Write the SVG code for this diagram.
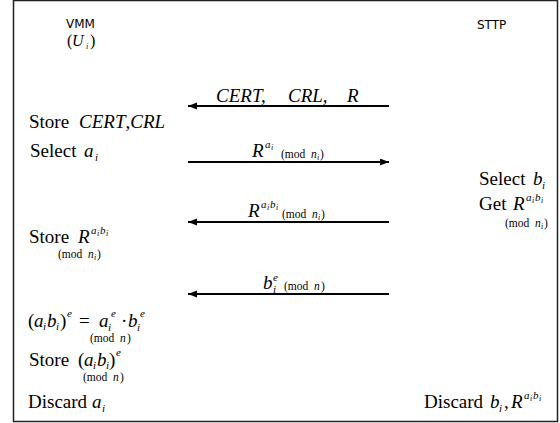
<svg xmlns="http://www.w3.org/2000/svg" width="560" height="423" viewBox="0 0 560 423">
<style>
.sans{font-family:"DejaVu Sans",Verdana,sans-serif;font-size:12px;fill:#000}
.t{font-family:"Liberation Serif","Times New Roman",serif;font-size:19px;fill:#000}
.i{font-style:italic}
.s{font-size:11px}
.m{font-size:11.5px}
.ss{font-size:8px}
.arrow{stroke:#000;stroke-width:2;fill:none;marker-end:url(#ah)}
</style>
<defs>
<marker id="ah" markerUnits="userSpaceOnUse" markerWidth="10" markerHeight="8" refX="9" refY="3.5" orient="auto">
<path d="M0,0 L9,3.5 L0,7 z" fill="#000"/>
</marker>
</defs>
<rect x="13.5" y="0.5" width="544" height="421" fill="#fff" stroke="#222" stroke-width="1.5"/>

<g id="vmm">
<text class="sans" x="66" y="28">VMM</text>
<text class="t" x="67" y="46" style="font-size:16px">(</text>
<text class="t i" x="72" y="46" style="font-size:16px">U</text>
<text class="t i ss" x="86" y="49">i</text>
<text class="t" x="90" y="46" style="font-size:16px">)</text>
</g>

<g id="sttp">
<text class="sans" x="477" y="29">STTP</text>
</g>

<g id="connectors">
<line class="arrow" x1="389" y1="106" x2="188" y2="106"/>
<line class="arrow" x1="188" y1="162" x2="389" y2="162"/>
<line class="arrow" x1="389" y1="222" x2="188" y2="222"/>
<line class="arrow" x1="389" y1="294" x2="188" y2="294"/>
</g>

<g id="msg1-label">
<text class="t i" x="216" y="102">CERT,</text>
<text class="t i" x="288" y="102">CRL,</text>
<text class="t i" x="347" y="102">R</text>
</g>

<g id="msg2-label">
<text class="t i" x="252" y="157">R</text>
<text class="t i s" x="265" y="148">a</text>
<text class="t i ss" x="271" y="150">i</text>
<text class="t m" x="281" y="158">(mod</text>
<text class="t m i" x="311" y="158">n</text>
<text class="t ss i" x="317" y="160">i</text>
<text class="t m" x="320" y="158">)</text>
</g>

<g id="msg3-label">
<text class="t i" x="248" y="217">R</text>
<text class="t i s" x="261" y="208">a</text>
<text class="t i ss" x="267" y="210">i</text>
<text class="t i s" x="270" y="208">b</text>
<text class="t i ss" x="276" y="210">i</text>
<text class="t m" x="282" y="218">(mod</text>
<text class="t m i" x="312" y="218">n</text>
<text class="t ss i" x="318" y="220">i</text>
<text class="t m" x="321" y="218">)</text>
</g>

<g id="msg4-label">
<text class="t i" x="263" y="289">b</text>
<text class="t i s" x="273" y="293">i</text>
<text class="t i s" x="273" y="281">e</text>
<text class="t m" x="284" y="290">(mod</text>
<text class="t m i" x="314" y="290">n</text>
<text class="t m" x="321" y="290">)</text>
</g>

<g id="vmm-store-cert">
<text class="t" x="29" y="128">Store</text>
<text class="t" x="79" y="128"><tspan class="i">CERT</tspan>,<tspan class="i">CRL</tspan></text>
</g>

<g id="vmm-select-a">
<text class="t" x="30" y="157">Select</text>
<text class="t i" x="84" y="157">a</text>
<text class="t i s" x="95" y="161">i</text>
</g>

<g id="sttp-select-b">
<text class="t" x="479" y="185">Select</text>
<text class="t i" x="533" y="185">b</text>
<text class="t i s" x="542" y="189">i</text>
</g>

<g id="sttp-get-r">
<text class="t" x="479" y="210">Get</text>
<text class="t i" x="513" y="210">R</text>
<text class="t i s" x="526" y="201">a</text>
<text class="t i ss" x="532" y="203">i</text>
<text class="t i s" x="535" y="201">b</text>
<text class="t i ss" x="541" y="203">i</text>
<text class="t m" x="505" y="227">(mod</text>
<text class="t m i" x="535" y="227">n</text>
<text class="t ss i" x="541" y="229">i</text>
<text class="t m" x="544" y="227">)</text>
</g>

<g id="vmm-store-r">
<text class="t" x="29" y="243">Store</text>
<text class="t i" x="78" y="243">R</text>
<text class="t i s" x="91" y="234">a</text>
<text class="t i ss" x="97" y="236">i</text>
<text class="t i s" x="100" y="234">b</text>
<text class="t i ss" x="106" y="236">i</text>
<text class="t m" x="58" y="258">(mod</text>
<text class="t m i" x="88" y="258">n</text>
<text class="t ss i" x="94" y="260">i</text>
<text class="t m" x="97" y="258">)</text>
</g>

<g id="vmm-equation">
<text class="t" x="28" y="327">(</text>
<text class="t i" x="34" y="327">a</text>
<text class="t i s" x="43" y="330">i</text>
<text class="t i" x="47" y="327">b</text>
<text class="t i s" x="56" y="330">i</text>
<text class="t" x="60" y="327">)</text>
<text class="t i s" x="67" y="317">e</text>
<text class="t" x="79" y="327">=</text>
<text class="t i" x="99" y="327">a</text>
<text class="t i s" x="108" y="331">i</text>
<text class="t i s" x="111" y="317">e</text>
<text class="t" x="121" y="327">·</text>
<text class="t i" x="128" y="327">b</text>
<text class="t i s" x="137" y="331">i</text>
<text class="t i s" x="140" y="317">e</text>
<text class="t m" x="90" y="342">(mod</text>
<text class="t m i" x="120" y="342">n</text>
<text class="t m" x="127" y="342">)</text>
</g>

<g id="vmm-store-ab">
<text class="t" x="29" y="366">Store</text>
<text class="t" x="78" y="366">(</text>
<text class="t i" x="84" y="366">a</text>
<text class="t i s" x="93" y="369">i</text>
<text class="t i" x="97" y="366">b</text>
<text class="t i s" x="106" y="369">i</text>
<text class="t" x="109" y="366">)</text>
<text class="t i s" x="116" y="356">e</text>
<text class="t m" x="83" y="381">(mod</text>
<text class="t m i" x="113" y="381">n</text>
<text class="t m" x="120" y="381">)</text>
</g>

<g id="vmm-discard">
<text class="t" x="28" y="408">Discard</text>
<text class="t i" x="92" y="408">a</text>
<text class="t i s" x="102" y="412">i</text>
</g>

<g id="sttp-discard">
<text class="t" x="424" y="408">Discard</text>
<text class="t i" x="490" y="408">b</text>
<text class="t i s" x="499" y="412">i</text>
<text class="t" x="504" y="408">,</text>
<text class="t i" x="511" y="408">R</text>
<text class="t i s" x="524" y="399">a</text>
<text class="t i ss" x="530" y="401">i</text>
<text class="t i s" x="533" y="399">b</text>
<text class="t i ss" x="539" y="401">i</text>
</g>
</svg>
